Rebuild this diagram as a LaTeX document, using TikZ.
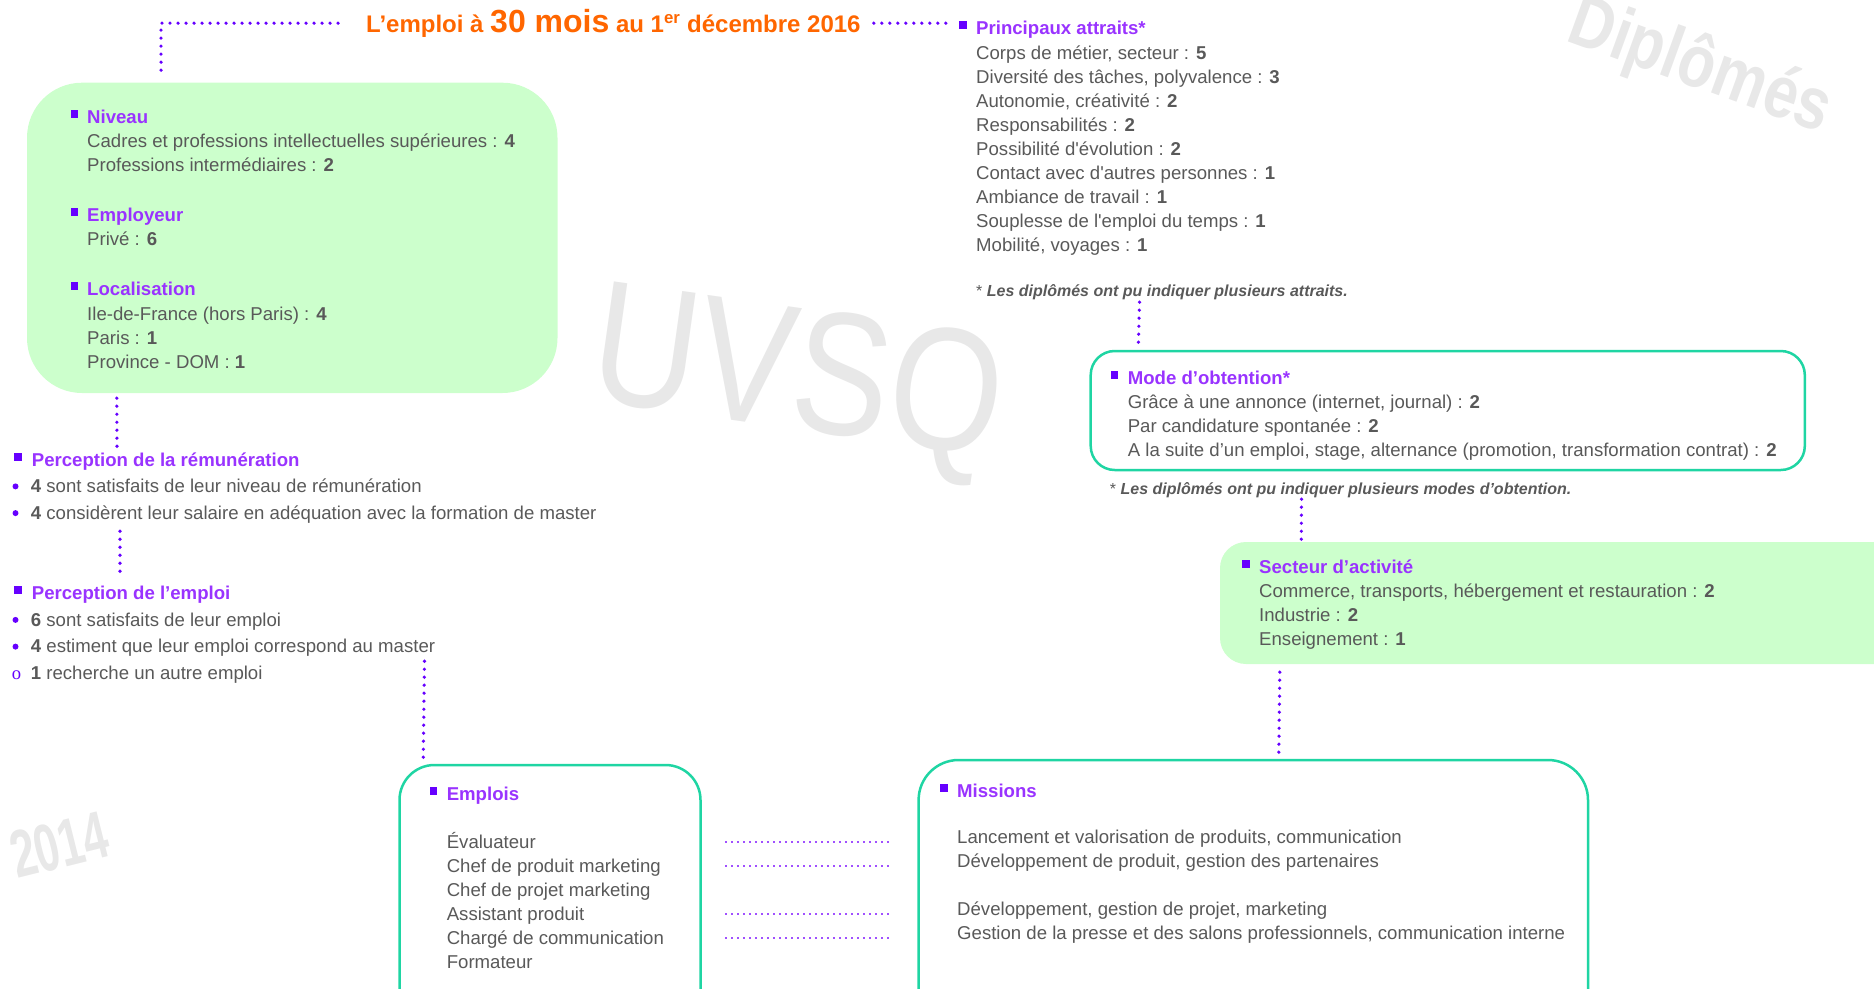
\documentclass[tikz,border=0pt]{standalone}
\usepackage{fontspec}
\setmainfont{Liberation Sans}
\newfontfamily\serifo{Liberation Serif}
\usetikzlibrary{positioning}

\definecolor{vertfond}{HTML}{CCFFCC}
\definecolor{turquoise}{HTML}{1FD5A3}
\definecolor{violettitre}{HTML}{9933FF}
\definecolor{violetpuce}{HTML}{6600FF}
\definecolor{violetfin}{HTML}{A050FF}
\definecolor{gristexte}{HTML}{595959}
\definecolor{orangetitre}{HTML}{FF6600}
\definecolor{filigrane}{HTML}{E8E8E8}

\newcommand{\corps}{\fontsize{18.6pt}{24pt}\selectfont}
\newcommand{\petit}{\fontsize{16pt}{20pt}\selectfont}

\tikzset{
  texte/.style={text=gristexte, font=\corps, inner sep=0pt, anchor=west, text height=13.6pt, text depth=1pt},
  rubrique/.style={texte, text=violettitre, font=\corps\bfseries},
  note/.style={text=gristexte, font=\petit, inner sep=0pt, anchor=west, text height=11.8pt, text depth=1pt},
  puce/.style={fill=violetpuce, inner sep=0pt, minimum size=7.8pt, yshift=3pt},
  rond/.style={circle, fill=violetpuce, inner sep=0pt, minimum size=6pt},
  boiteverte/.style={fill=vertfond, inner sep=0pt},
  boitecadre/.style={draw=turquoise, line width=2.5pt, fill=white, inner sep=0pt},
  pointille/.style={draw=violetpuce, line width=3.6pt, line cap=round, dash pattern=on 0pt off 8pt},
  fin/.style={draw=violetfin, line width=2pt, dash pattern=on 2pt off 4pt},
  filig/.style={text=filigrane, inner sep=0pt, transform shape}
}

\begin{document}
\begin{tikzpicture}[x=1pt, y=-1pt]
\useasboundingbox (0,0) rectangle (1874,988);

% filigranes
\node[filig, font=\fontsize{175pt}{175pt}\selectfont, rotate=-8, xscale=0.83] (uvsq) at (797,384) {UVSQ};
\node[filig, font=\fontsize{74pt}{74pt}\selectfont\bfseries, rotate=-20, xscale=0.82] (diplomes) at (1700,68) {Diplômés};
\node[filig, font=\fontsize{67pt}{67pt}\selectfont\bfseries, rotate=14, xscale=0.66, anchor=base west] (annee) at (17,879) {2014};

% boites
\node[boiteverte, minimum width=530.5pt, minimum height=310.3pt, rounded corners=55pt] (niveaubox) at (292.25,237.85) {};
\node[boitecadre, minimum width=714.1pt, minimum height=119pt, rounded corners=24pt] (modebox) at (1447.75,410.5) {};
\node[boiteverte, minimum width=700pt, minimum height=122pt, rounded corners=26pt] (secteurbox) at (1570,603) {};
\node[boitecadre, minimum width=669.4pt, minimum height=280pt, rounded corners=40pt] (missionsbox) at (1253.3,900) {};
\node[boitecadre, minimum width=301pt, minimum height=275pt, rounded corners=35pt] (emploisbox) at (550,902.5) {};

% titre
\node[anchor=base west, inner sep=0pt, text=orangetitre, font=\fontsize{24pt}{28pt}\selectfont\bfseries] (titre) at (366,32.3)
  {L’emploi à {\fontsize{32pt}{34pt}\selectfont 30 mois} au 1\textsuperscript{er} décembre 2016};

% niveau, employeur, localisation
\node[rubrique] (niveau) at (87,116.7) {Niveau};
\node[puce, left=8.5pt of niveau] (niveaupuce) {};
\node[texte] (niv1) at (87,141) {Cadres et professions intellectuelles supérieures : \textbf{4}};
\node[texte] (niv2) at (87,165) {Professions intermédiaires : \textbf{2}};
\node[rubrique] (employeur) at (87,215) {Employeur};
\node[puce, left=8.5pt of employeur] (employeurpuce) {};
\node[texte] (prive) at (87,239) {Privé : \textbf{6}};
\node[rubrique] (localisation) at (87,289.3) {Localisation};
\node[puce, left=8.5pt of localisation] (localisationpuce) {};
\node[texte] (loc1) at (87,314) {Ile-de-France (hors Paris) : \textbf{4}};
\node[texte] (loc2) at (87,338) {Paris : \textbf{1}};
\node[texte] (loc3) at (87,362) {Province - DOM : \textbf{1}};

% principaux attraits
\node[rubrique] (attraits) at (976,28) {Principaux attraits*};
\node[puce, left=9pt of attraits] (attraitspuce) {};
\foreach \txt [count=\i] in {%
  {Corps de métier, secteur : \textbf{5}},
  {Diversité des tâches, polyvalence : \textbf{3}},
  {Autonomie, créativité : \textbf{2}},
  {Responsabilités : \textbf{2}},
  {Possibilité d\textquotesingle évolution : \textbf{2}},
  {Contact avec d\textquotesingle autres personnes : \textbf{1}},
  {Ambiance de travail : \textbf{1}},
  {Souplesse de l\textquotesingle emploi du temps : \textbf{1}},
  {Mobilité, voyages : \textbf{1}}}
  \node[texte] (attr\i) at (976,{53.3+24*(\i-1)}) {\txt};
\node[note] (noteattr) at (976,291) {* \textbf{\textit{Les diplômés ont pu indiquer plusieurs attraits.}}};

% mode d'obtention
\node[rubrique] (mode) at (1127.6,377.7) {Mode d’obtention*};
\node[puce, left=9pt of mode] (modepuce) {};
\foreach \txt [count=\i] in {%
  {Grâce à une annonce (internet, journal) : \textbf{2}},
  {Par candidature spontanée : \textbf{2}},
  {A la suite d’un emploi, stage, alternance (promotion, transformation contrat) : \textbf{2}}}
  \node[texte] (mode\i) at (1127.6,{401.7+24*(\i-1)}) {\txt};
\node[note] (notemode) at (1109.7,489) {* \textbf{\textit{Les diplômés ont pu indiquer plusieurs modes d’obtention.}}};

% secteur
\node[rubrique] (secteur) at (1259,566.7) {Secteur d’activité};
\node[puce, left=9pt of secteur] (secteurpuce) {};
\foreach \txt [count=\i] in {%
  {Commerce, transports, hébergement et restauration : \textbf{2}},
  {Industrie : \textbf{2}},
  {Enseignement : \textbf{1}}}
  \node[texte] (sect\i) at (1259,{590.7+24*(\i-1)}) {\txt};

% missions
\node[rubrique] (missions) at (957,790.7) {Missions};
\node[puce, left=9pt of missions] (missionspuce) {};
\foreach \y/\txt [count=\i] in {%
  836.7/{Lancement et valorisation de produits, communication},
  860.7/{Développement de produit, gestion des partenaires},
  908.7/{Développement, gestion de projet, marketing},
  932.7/{Gestion de la presse et des salons professionnels, communication interne}}
  \node[texte] (mis\i) at (957,\y) {\txt};

% emplois
\node[rubrique] (emplois) at (446.6,793.7) {Emplois};
\node[puce, left=9pt of emplois] (emploispuce) {};
\foreach \txt [count=\i] in {Évaluateur, Chef de produit marketing, Chef de projet marketing,
  Assistant produit, Chargé de communication, Formateur}
  \node[texte] (job\i) at (446.6,{841.7+24*(\i-1)}) {\txt};

% perceptions
\node[rubrique] (remun) at (31.7,459.7) {Perception de la rémunération};
\node[puce, left=9.5pt of remun] (remunpuce) {};
\node[texte] (rem1) at (30.7,486.4) {\textbf{4} sont satisfaits de leur niveau de rémunération};
\node[rond, left=12pt of rem1] (rem1puce) {};
\node[texte] (rem2) at (30.7,513.1) {\textbf{4} considèrent leur salaire en adéquation avec la formation de master};
\node[rond, left=12pt of rem2] (rem2puce) {};

\node[rubrique] (emploi) at (31.7,593.2) {Perception de l’emploi};
\node[puce, left=9.5pt of emploi] (emploipuce) {};
\node[texte] (emp1) at (30.7,619.9) {\textbf{6} sont satisfaits de leur emploi};
\node[rond, left=12pt of emp1] (emp1puce) {};
\node[texte] (emp2) at (30.7,646.6) {\textbf{4} estiment que leur emploi correspond au master};
\node[rond, left=12pt of emp2] (emp2puce) {};
\node[texte] (emp3) at (30.7,673.3) {\textbf{1} recherche un autre emploi};
\node[text=violetpuce, font=\corps\serifo, inner sep=0pt, left=9.4pt of emp3, yshift=-2pt] (emp3puce) {o};

% liaisons
\draw[pointille] ([xshift=-28pt]titre.west) -| ([xshift=-131.25pt,yshift=5pt]niveaubox.north);
\draw[pointille] ([xshift=13pt]titre.east) -- ([xshift=-9pt]titre.east -| attraitspuce.west);
\draw[pointille] ([xshift=163.5pt,yshift=-4.6pt]noteattr.south west) -- ([xshift=48.8pt]modebox.north west);
\draw[pointille] ([xshift=191.8pt,yshift=-3.6pt]notemode.south west) -- ([xshift=81.5pt]secteurbox.north west);
\draw[pointille] ([xshift=60pt,yshift=-8pt]secteurbox.south west) -- ([xshift=361.4pt]missionsbox.north west);
\draw[pointille] ([xshift=90pt,yshift=-5pt]niveaubox.south west) -- ([xshift=85.3pt,yshift=6pt]remun.north west);
\draw[pointille] ([xshift=89.3pt,yshift=-10.6pt]rem2.south west) -- ([xshift=88.3pt,yshift=12.9pt]emploi.north west);
\draw[pointille] ([xshift=393.8pt,yshift=-7.1pt]emp2.south west) -- ([xshift=25pt,yshift=6pt]emploisbox.north west);
\foreach \j in {1,2,4,5}
  \draw[fin] ([xshift=23.5pt]job\j.west -| emploisbox.east) -- ([xshift=-28.5pt]job\j.west -| missionsbox.west);

\end{tikzpicture}
\end{document}
